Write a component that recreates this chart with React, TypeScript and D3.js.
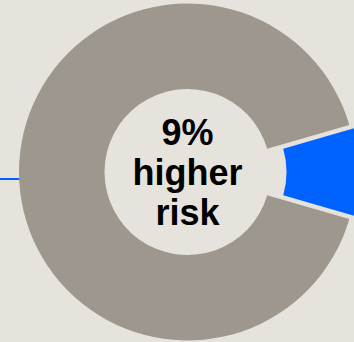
import React from "react";
import * as d3 from "d3";

// Share of the highlighted group versus the rest
const segmentLabels = ["higher risk", "rest"];
const segmentValues = [9, 91];
const segmentColors = ["#0062ff", "#9d978d"];
const centerLines = ["9%", "higher", "risk"];

const W = 354;
const H = 342;
const BG = "#e6e3dd";

export default function App() {
  const cx = 187.5;
  const cy = 172;
  const outerR = 168.5;
  const innerR = 83;
  const explode = 16;

  const share = segmentValues[0] / d3.sum(segmentValues);
  const start = Math.PI / 2 - share * Math.PI;
  const pie = d3
    .pie<number>()
    .sort(null)
    .value((d) => d)
    .startAngle(start)
    .endAngle(start + 2 * Math.PI);
  const arcs = pie(segmentValues);
  const arc = d3.arc<d3.PieArcDatum<number>>().innerRadius(innerR).outerRadius(outerR);

  return (
    <svg
      width={W}
      height={H}
      style={{ position: "fixed", left: 0, top: 0, background: BG }}
    >
      <rect width={W} height={H} fill={BG} />
      <line x1={0} x2={cx - outerR + 1} y1={179} y2={179} stroke="#0062ff" strokeWidth={2} />
      <g transform={`translate(${cx},${cy})`}>
        {arcs
          .map((a, i) => {
            const mid = (a.startAngle + a.endAngle) / 2;
            const off = i === 0 ? explode : 0;
            const dx = Math.sin(mid) * off;
            const dy = -Math.cos(mid) * off;
            return (
              <path
                key={segmentLabels[i]}
                d={arc(a) || ""}
                fill={segmentColors[i]}
                transform={`translate(${dx},${dy})`}
              />
            );
          })
          .reverse()}
        <text
          textAnchor="middle"
          fontFamily="'Liberation Sans', Arial, sans-serif"
          fontWeight="bold"
          fontSize={36}
          fill="#000"
        >
          {centerLines.map((t, i) => (
            <tspan key={t} x={0} y={-27 + i * 40}>
              {t}
            </tspan>
          ))}
        </text>
      </g>
    </svg>
  );
}
